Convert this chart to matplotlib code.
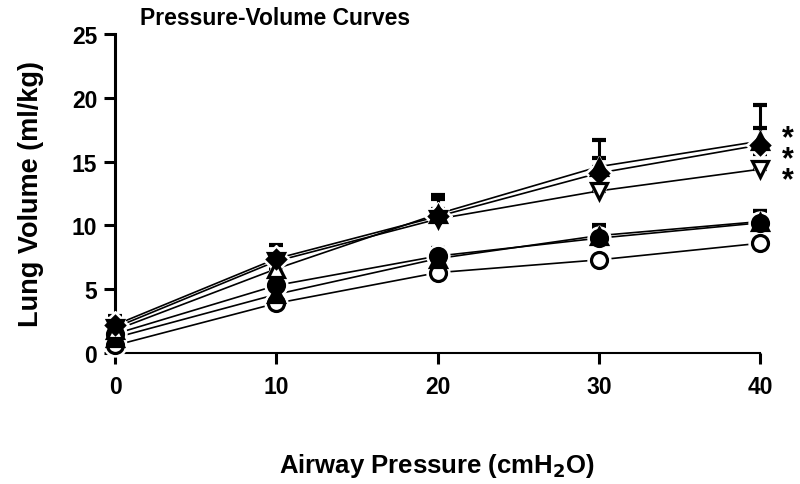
import matplotlib
matplotlib.use("Agg")
import matplotlib.pyplot as plt
import numpy as np

plt.rcParams['font.family'] = ['Liberation Sans', 'DejaVu Sans']
plt.rcParams['font.weight'] = 'bold'

pressure = [0, 10, 20, 30, 40]

# series: (values, upper error, marker, filled)
open_circle = [0.6, 3.9, 6.3, 7.3, 8.6]
open_circle_err = [0.3, 0.3, 0.3, 0.3, 0.4]
filled_circle = [1.5, 5.3, 7.6, 9.0, 10.2]
filled_circle_err = [0.5, 0.6, 0.6, 0.9, 0.9]
filled_tri_up = [1.2, 4.6, 7.4, 9.2, 10.3]
filled_tri_up_err = [0.4, 0.5, 0.6, 0.8, 0.8]
open_tri_up = [1.8, 6.6, 10.9, 14.6, 16.6]
open_tri_up_err = [0.6, 1.0, 1.2, 2.1, 2.8]
open_tri_down = [2.0, 7.2, 10.5, 12.7, 14.4]
open_tri_down_err = [0.4, 0.6, 0.8, 1.0, 1.2]
filled_tri_down = [2.2, 7.4, 10.7, 14.1, 16.3]
filled_tri_down_err = [0.7, 1.1, 1.7, 1.2, 1.3]

sig_labels = ['*', '*', '*']
sig_center = 15.2

series = [
    (open_circle, open_circle_err, 'o', False),
    (filled_tri_up, filled_tri_up_err, '^', True),
    (filled_circle, filled_circle_err, 'o', True),
    (open_tri_down, open_tri_down_err, 'v', False),
    (open_tri_up, open_tri_up_err, '^', False),
    (filled_tri_down, filled_tri_down_err, 'D', True),
]

fig = plt.figure(figsize=(8, 4.85), dpi=100)
ax = fig.add_axes([0.144, 0.270, 0.806, 0.658])

for vals, err, mk, filled in series:
    ax.plot(pressure, vals, color='black', lw=1.2, zorder=2, clip_on=False)

for vals, err, mk, filled in series:
    yerr = [np.zeros(len(err)), err]
    ax.errorbar(pressure, vals, yerr=yerr, fmt='none', ecolor='black',
                elinewidth=2.2, capsize=5, capthick=3, zorder=3, clip_on=False)

for vals, err, mk, filled in series:
    ms = 9 if mk == 'D' else 11.5
    ax.plot(pressure, vals, linestyle='none', marker=mk, markersize=ms + 5,
            markerfacecolor='white', markeredgecolor='white', zorder=4, clip_on=False)

for vals, err, mk, filled in series:
    ms = 9 if mk == 'D' else 11.5
    ax.plot(pressure, vals, linestyle='none', marker=mk, markersize=ms,
            markerfacecolor='black' if filled else 'white',
            markeredgecolor='black', markeredgewidth=2.3, zorder=5, clip_on=False)

ax.text(41.7, sig_center, '\n'.join(sig_labels), fontsize=22, fontweight='bold',
        ha='center', va='center', linespacing=0.6)

ax.set_xlim(0, 40)
ax.set_ylim(0, 25)
ax.set_xticks([0, 10, 20, 30, 40])
ax.set_yticks([0, 5, 10, 15, 20, 25])
ax.spines['top'].set_visible(False)
ax.spines['right'].set_visible(False)
ax.spines['left'].set_linewidth(2.2)
ax.spines['bottom'].set_linewidth(1.5)
ax.tick_params(axis='y', direction='out', length=8, width=2.2, labelsize=16.5, pad=5)
ax.tick_params(axis='x', direction='out', length=8, width=2.2, labelsize=16.5, pad=8)
for t in ax.get_xticklabels() + ax.get_yticklabels():
    t.set_fontweight('bold')

ax.set_ylabel('Lung Volume (ml/kg)', fontsize=19.5, fontweight='bold', labelpad=20)
ax.set_xlabel('Airway Pressure (cmH$_\\mathbf{2}$O)', fontsize=18.5, fontweight='bold', labelpad=38)
fig.text(0.175, 0.962, 'Pressure-Volume Curves', fontsize=16.5, fontweight='bold', ha='left', va='center')

fig.savefig('out.png', dpi=100)
